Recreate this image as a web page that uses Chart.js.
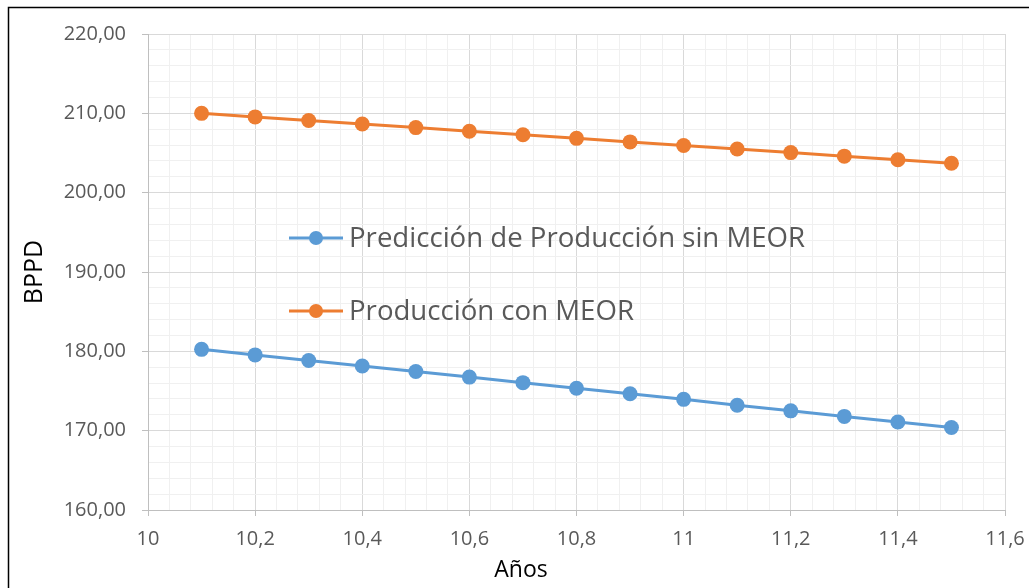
<!DOCTYPE html>
<html>
<head>
<meta charset="utf-8">
<script src="https://cdn.jsdelivr.net/npm/chart.js@4/dist/chart.umd.min.js"></script>
<style>
  html, body { margin: 0; padding: 0; background: #fff; }
  #wrap { position: absolute; left: 0; top: 0; width: 1029px; height: 588px; }
</style>
</head>
<body>
<div id="wrap"><canvas id="myChart"></canvas></div>
<script>
// años de la predicción
const anios = [10.1, 10.2, 10.3, 10.4, 10.5, 10.6, 10.7, 10.8, 10.9, 11.0, 11.1, 11.2, 11.3, 11.4, 11.5];
// BPPD sin MEOR
const sinMeor = [180.25, 179.55, 178.85, 178.15, 177.45, 176.75, 176.05, 175.35, 174.65, 173.95, 173.2, 172.5, 171.8, 171.1, 170.4];
// BPPD con MEOR
const conMeor = [210.0, 209.55, 209.1, 208.65, 208.2, 207.75, 207.3, 206.85, 206.4, 205.95, 205.5, 205.05, 204.6, 204.15, 203.7];

const serieNombres = ['Predicción de Producción sin MEOR', 'Producción con MEOR'];
const xMin = 10, xMax = 11.6, xMajor = 0.2, xMinor = 0.04;
const yMin = 160, yMax = 220, yMajor = 10, yMinor = 2;

const gris = '#595959';
const azul = '#5B9BD5';
const naranja = '#ED7D31';

function esMayor(v, paso) {
  const r = v / paso;
  return Math.abs(r - Math.round(r)) < 1e-6;
}

function puntos(ys) {
  return anios.map((x, i) => ({ x: x, y: ys[i] }));
}

// leyenda dentro del area de trazado + borde + titulo eje x
const extras = {
  id: 'extras',
  afterDraw(chart) {
    const ctx = chart.ctx;
    ctx.save();
    // borde del grafico
    ctx.strokeStyle = '#000';
    ctx.lineWidth = 1.5;
    ctx.beginPath();
    ctx.moveTo(8.5, 600);
    ctx.lineTo(8.5, 7.5);
    ctx.lineTo(1029, 7.5);
    ctx.stroke();

    // leyenda
    const lx = 289, ly = [238, 311];
    chart.data.datasets.forEach((ds, i) => {
      const y = ly[i];
      ctx.strokeStyle = ds.borderColor;
      ctx.lineWidth = 3;
      ctx.beginPath();
      ctx.moveTo(lx, y);
      ctx.lineTo(lx + 54, y);
      ctx.stroke();
      ctx.fillStyle = ds.backgroundColor;
      ctx.beginPath();
      ctx.arc(lx + 27, y, 7, 0, Math.PI * 2);
      ctx.fill();
      ctx.fillStyle = gris;
      ctx.font = '27.6px "Open Sans"';
      ctx.textBaseline = 'middle';
      ctx.textAlign = 'left';
      ctx.fillText(ds.label, lx + 60, y + 1);
    });

    // titulo eje x
    ctx.fillStyle = '#000';
    ctx.font = '23px "Open Sans"';
    ctx.textAlign = 'center';
    ctx.textBaseline = 'middle';
    ctx.fillText('Años', 521, 570);
    ctx.restore();
  }
};

const config = {
  type: 'line',
  data: {
    datasets: [{
      label: serieNombres[0],
      data: puntos(sinMeor),
      borderColor: azul,
      backgroundColor: azul,
      borderWidth: 3,
      pointRadius: 7.5,
      pointHoverRadius: 7.5,
      pointBorderWidth: 0,
      tension: 0
    }, {
      label: serieNombres[1],
      data: puntos(conMeor),
      borderColor: naranja,
      backgroundColor: naranja,
      borderWidth: 3,
      pointRadius: 7.5,
      pointHoverRadius: 7.5,
      pointBorderWidth: 0,
      tension: 0
    }]
  },
  options: {
    responsive: true,
    maintainAspectRatio: false,
    animation: false,
    layout: { padding: { left: 8, top: 34, right: 24, bottom: 0 } },
    plugins: {
      legend: { display: false },
      tooltip: { enabled: false },
      title: { display: false }
    },
    scales: {
      x: {
        type: 'linear',
        min: xMin,
        max: xMax,
        afterFit(scale) {
          scale.height = 78;
          scale.paddingLeft = 0;
          scale.paddingRight = 0;
        },
        ticks: {
          stepSize: xMinor,
          autoSkip: false,
          maxRotation: 0,
          padding: 11,
          color: gris,
          font: { family: 'Open Sans', size: 20 },
          callback(v) {
            if (!esMayor(v - xMin, xMajor)) return '';
            return String(Math.round(v * 10) / 10).replace('.', ',');
          }
        },
        grid: {
          drawTicks: true,
          tickLength: 6,
          lineWidth: 1,
          color(c) { return esMayor(c.tick.value - xMin, xMajor) ? '#d9d9d9' : '#f0f0f0'; },
          tickColor(c) { return esMayor(c.tick.value - xMin, xMajor) ? '#bfbfbf' : 'rgba(0,0,0,0)'; }
        },
        border: { color: '#bfbfbf', width: 1 }
      },
      y: {
        min: yMin,
        max: yMax,
        afterFit(scale) {
          scale.width = 140;
          scale.paddingTop = 0;
          scale.paddingBottom = 0;
        },
        ticks: {
          stepSize: yMinor,
          autoSkip: false,
          padding: 16,
          color: gris,
          font: { family: 'Open Sans', size: 20 },
          callback(v) {
            if (!esMayor(v - yMin, yMajor)) return '';
            return v.toFixed(2).replace('.', ',');
          }
        },
        grid: {
          drawTicks: true,
          tickLength: 6,
          lineWidth: 1,
          color(c) { return esMayor(c.tick.value - yMin, yMajor) ? '#d9d9d9' : '#f0f0f0'; },
          tickColor(c) { return esMayor(c.tick.value - yMin, yMajor) ? '#bfbfbf' : 'rgba(0,0,0,0)'; }
        },
        border: { color: '#bfbfbf', width: 1 },
        title: {
          display: true,
          text: 'BPPD',
          color: '#000',
          font: { family: 'Open Sans', size: 25 },
          padding: { top: 12, bottom: 0 }
        }
      }
    }
  },
  plugins: [extras]
};

const ctx = document.getElementById('myChart').getContext('2d');
const grafica = new Chart(ctx, config);
</script>
</body>
</html>
